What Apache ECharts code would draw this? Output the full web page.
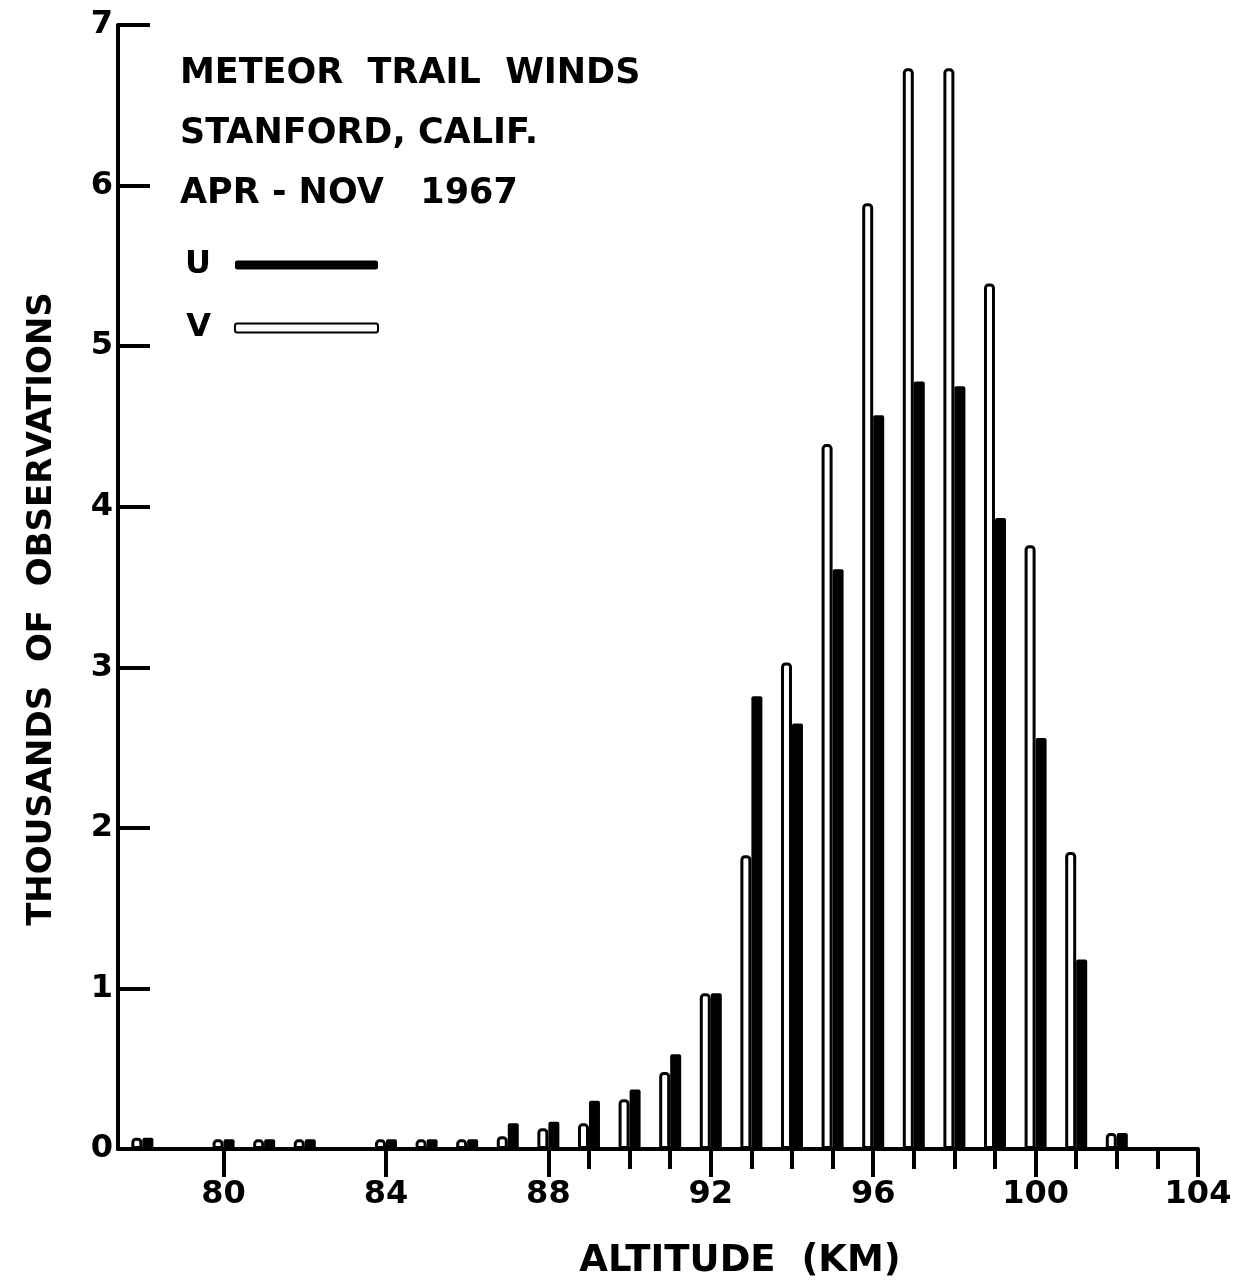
<!DOCTYPE html>
<html>
<head>
<meta charset="utf-8">
<title>Meteor Trail Winds</title>
<script src="https://cdn.jsdelivr.net/npm/echarts@6/dist/echarts.min.js"></script>
<style>
  html, body { margin: 0; padding: 0; background: #fff; }
  #chart { width: 1244px; height: 1285px; }
</style>
</head>
<body>
<div id="chart"></div>
<script>
// Altitude bins (km) and counts of observations (thousands) per wind component
const altitudes = [78, 79, 80, 81, 82, 83, 84, 85, 86, 87, 88, 89, 90, 91, 92, 93, 94, 95, 96, 97, 98, 99, 100, 101, 102];
const uValues = [0.07, null, 0.06, 0.06, 0.06, null, 0.06, 0.06, 0.06, 0.16, 0.17, 0.30, 0.37, 0.59, 0.97, 2.82, 2.65, 3.61, 4.57, 4.78, 4.75, 3.93, 2.56, 1.18, 0.10];
const vValues = [0.07, null, 0.06, 0.06, 0.06, null, 0.06, 0.06, 0.06, 0.08, 0.13, 0.16, 0.31, 0.48, 0.97, 1.83, 3.03, 4.39, 5.89, 6.73, 6.73, 5.39, 3.76, 1.85, 0.10];

// Axis ticks and labels
const majorTicks = [80, 84, 88, 92, 96, 100, 104];
const minorTicks = [89, 90, 91, 93, 94, 95, 97, 98, 99, 101, 102, 103];
const xLabels = [80, 84, 88, 92, 96, 100, 104];

const FONT = 'DejaVu Sans';
const INK = '#000';

const pairs = (vals) => altitudes.map((a, i) => [a, vals[i]]);

const chart = echarts.init(document.getElementById('chart'), null, { renderer: 'canvas' });

chart.setOption({
  backgroundColor: '#fff',
  animation: false,
  title: {
    text: 'METEOR  TRAIL  WINDS\nSTANFORD, CALIF.\nAPR - NOV   1967',
    left: 180,
    top: 44,
    padding: 0,
    textStyle: {
      fontFamily: FONT,
      fontWeight: 'bold',
      fontSize: 35,
      lineHeight: 60,
      color: INK
    }
  },
  legend: {
    data: ['U', 'V'],
    orient: 'vertical',
    left: 180,
    top: 244,
    align: 'right',
    itemWidth: 143,
    itemHeight: 9,
    itemGap: 31,
    selectedMode: false,
    textStyle: {
      fontFamily: FONT,
      fontWeight: 'bold',
      fontSize: 32,
      color: INK,
      padding: [0, 19, 0, 0]
    }
  },
  grid: {
    left: 118,
    right: 46,
    top: 25,
    bottom: 133,
    containLabel: false
  },
  xAxis: [
    {
      type: 'value',
      min: 77.4,
      max: 104,
      name: 'ALTITUDE  (KM)',
      nameLocation: 'middle',
      nameGap: 94,
      nameTextStyle: {
        fontFamily: FONT,
        fontWeight: 'bold',
        fontSize: 37,
        color: INK,
        padding: [0, 0, 0, 164]
      },
      axisLine: { show: true, onZero: false, lineStyle: { color: INK, width: 4 } },
      axisTick: { show: true, customValues: majorTicks, length: 28, lineStyle: { color: INK, width: 4 } },
      axisLabel: {
        customValues: xLabels,
        margin: 30,
        fontFamily: FONT,
        fontWeight: 'bold',
        fontSize: 32,
        color: INK
      },
      splitLine: { show: false }
    },
    {
      type: 'value',
      min: 77.4,
      max: 104,
      position: 'bottom',
      axisLine: { show: false, onZero: false },
      axisTick: { show: true, customValues: minorTicks, length: 20, lineStyle: { color: INK, width: 4 } },
      axisLabel: { show: false },
      splitLine: { show: false }
    }
  ],
  yAxis: {
    type: 'value',
    min: 0,
    max: 7,
    interval: 1,
    name: 'THOUSANDS  OF  OBSERVATIONS',
    nameLocation: 'middle',
    nameGap: 59,
    nameTextStyle: {
      fontFamily: FONT,
      fontWeight: 'bold',
      fontSize: 34,
      color: INK,
      padding: [0, 44, 0, 0]
    },
    axisLine: { show: true, lineStyle: { color: INK, width: 4 } },
    axisTick: { show: true, inside: true, length: 32, lineStyle: { color: INK, width: 4 } },
    axisLabel: {
      margin: 5,
      fontFamily: FONT,
      fontWeight: 'bold',
      fontSize: 32,
      color: INK
    },
    splitLine: { show: false }
  },
  series: [
    {
      name: 'V',
      type: 'bar',
      xAxisIndex: 0,
      data: pairs(vValues),
      barWidth: 11,
      barGap: '0%',
      itemStyle: { color: '#fff', borderColor: INK, borderWidth: 3, borderRadius: [3, 3, 0, 0] }
    },
    {
      name: 'U',
      type: 'bar',
      xAxisIndex: 0,
      data: pairs(uValues),
      barWidth: 11,
      barGap: '0%',
      itemStyle: { color: INK, borderRadius: [2, 2, 0, 0] }
    }
  ]
});
</script>
</body>
</html>
